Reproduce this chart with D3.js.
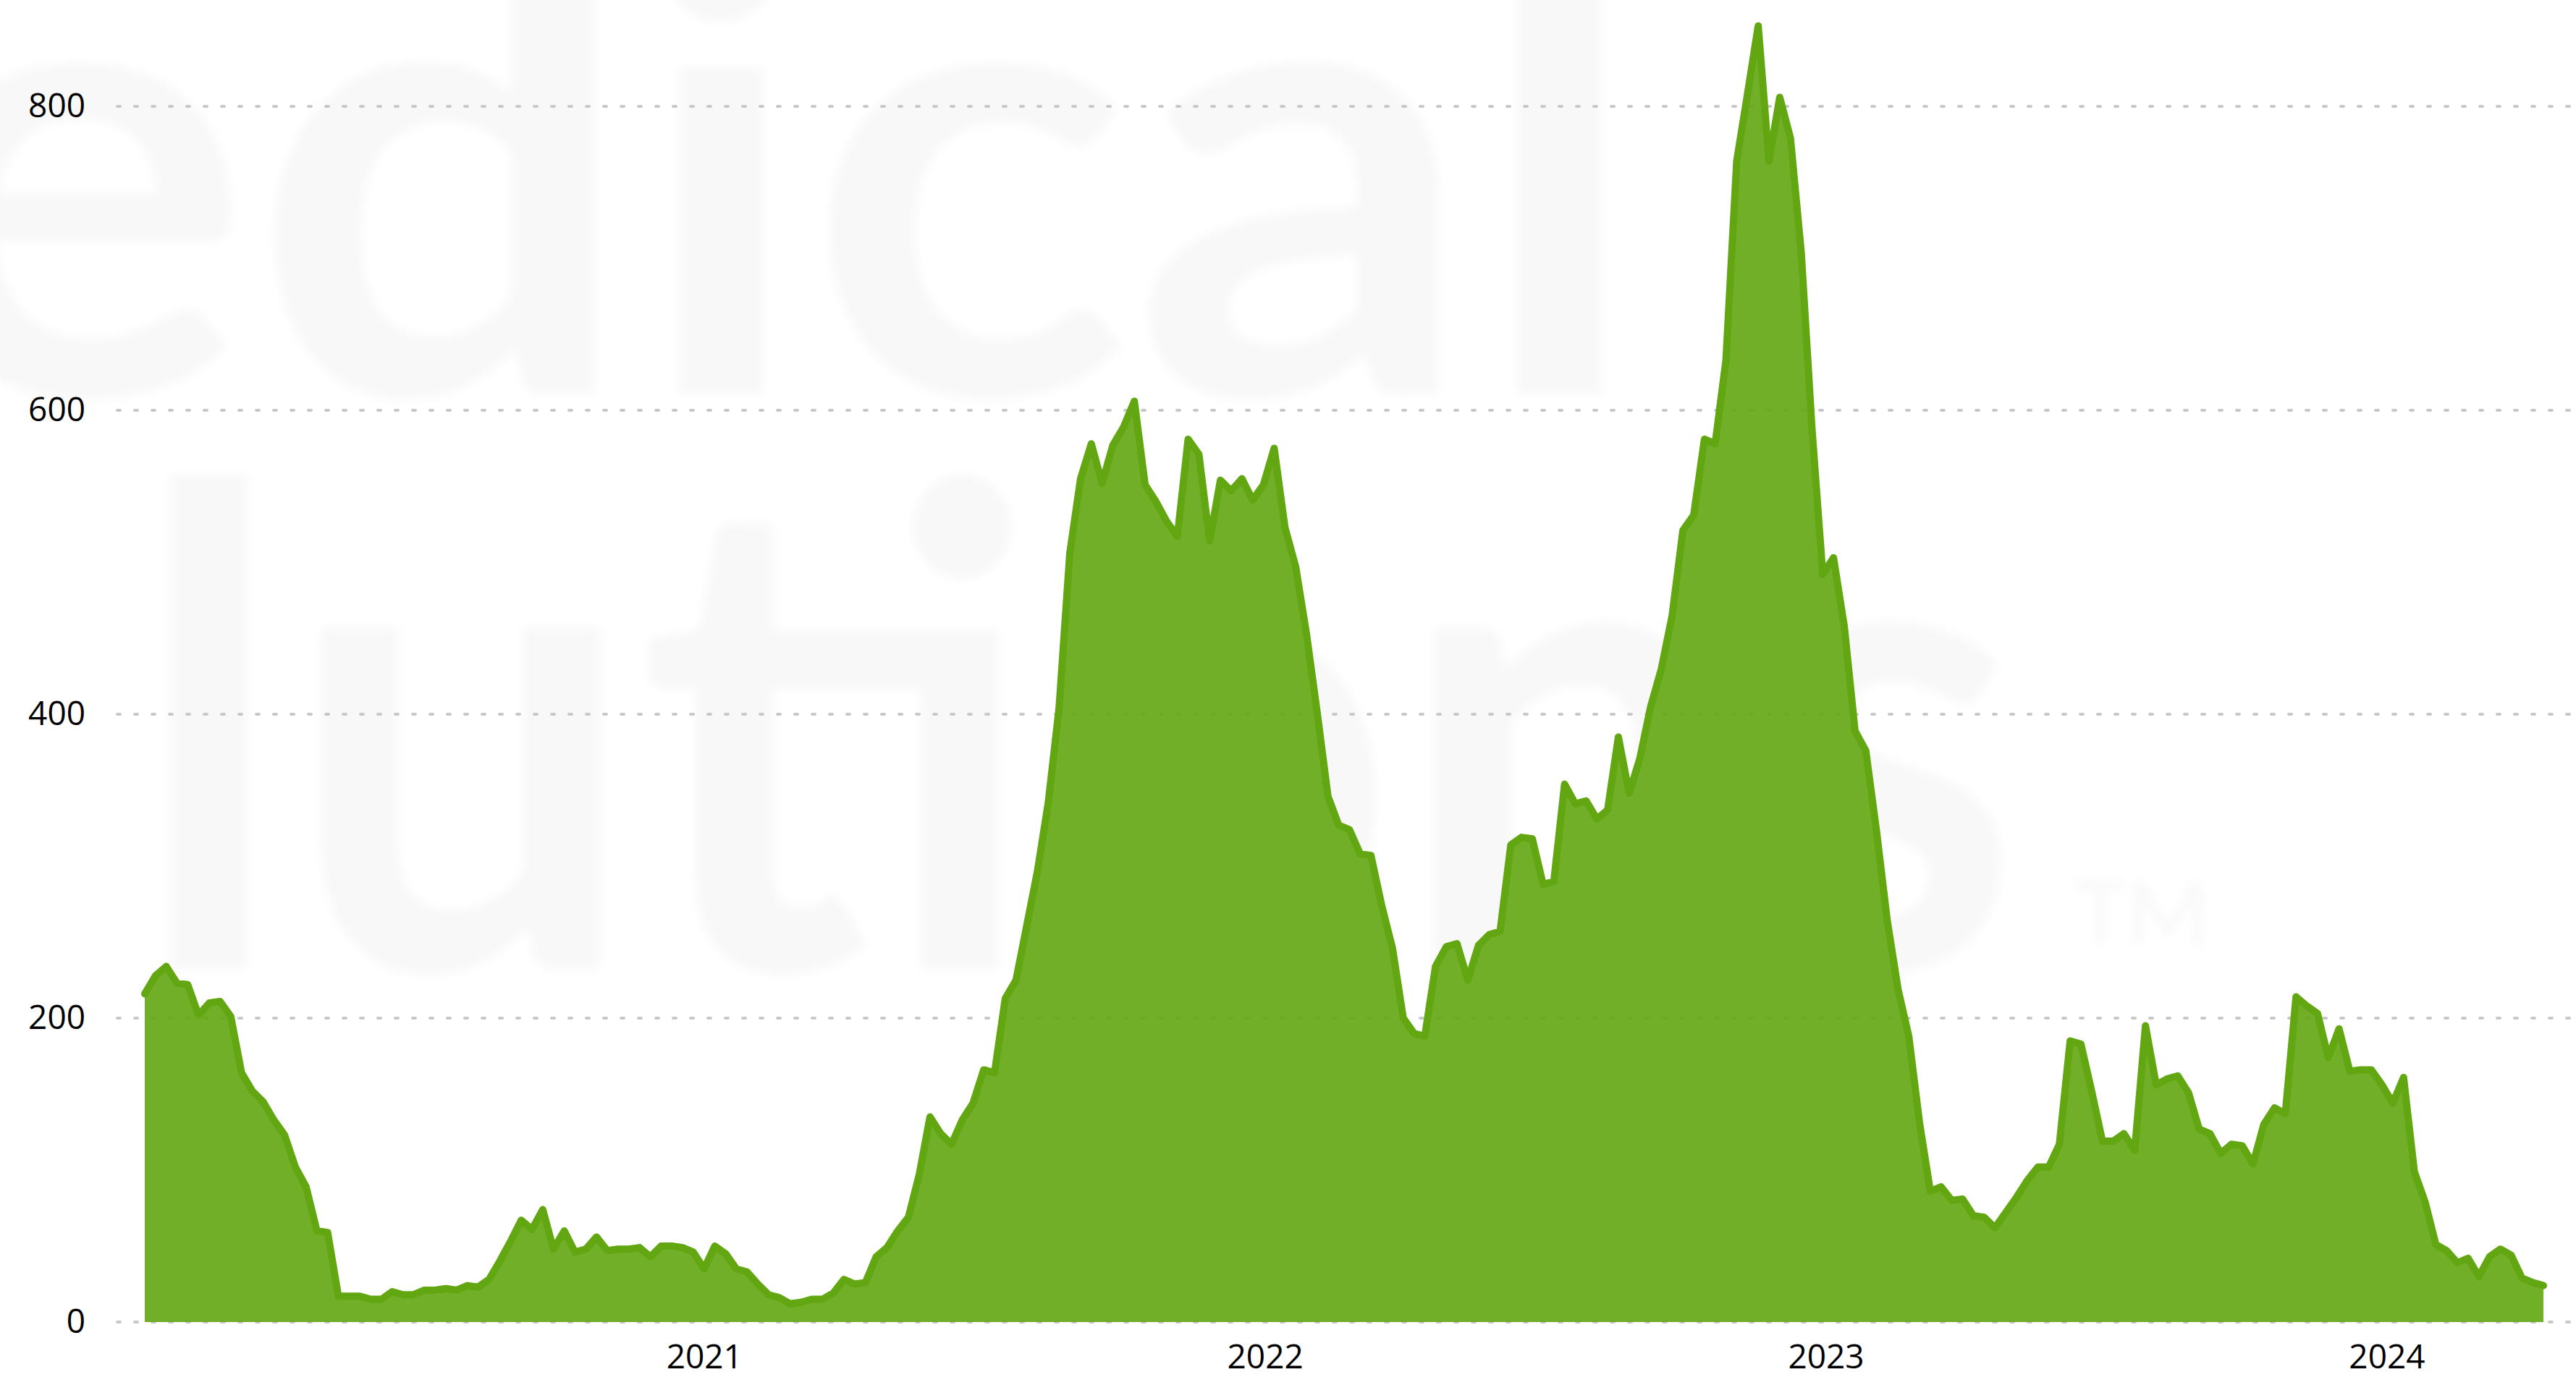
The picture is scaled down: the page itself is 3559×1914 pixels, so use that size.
<!DOCTYPE html>
<html>
<head>
<meta charset="utf-8">
<script src="https://cdn.jsdelivr.net/npm/d3@7"></script>
<style>
    body { margin: 0; background: #fff; }
    svg { display: block; }
    .tick text { font-family: "Open Sans", "Noto Sans", sans-serif; fill: #000; }
</style>
</head>
<body>
<svg id="chart"></svg>
<script>
// weekly values, first week ending 3 Jan 2020
var firstWeek = new Date(2020, 0, 3)
var weekly = [
    216, 228, 234, 223, 222, 202, 210, 211, 201, 164,
    152, 145, 133, 123, 102, 89, 60, 59, 17, 17,
    17, 15, 15, 20, 18, 18, 21, 21, 22, 21,
    24, 23, 28, 40, 53, 67, 61, 74, 48, 60,
    46, 48, 56, 47, 48, 48, 49, 43, 50, 50,
    49, 46, 35, 50, 45, 35, 33, 25, 18, 16,
    12, 13, 15, 15, 19, 28, 25, 26, 43, 49,
    60, 69, 97, 135, 124, 117, 133, 144, 166, 164,
    213, 225, 261, 297, 342, 404, 506, 555, 578, 552,
    577, 589, 606, 551, 540, 527, 517, 581, 571, 514,
    554, 547, 555, 541, 551, 575, 523, 497, 453, 401,
    346, 327, 324, 308, 307, 274, 246, 200, 190, 188,
    234, 247, 249, 225, 248, 255, 257, 314, 319, 318,
    288, 290, 354, 341, 343, 331, 337, 385, 348, 371,
    405, 430, 465, 521, 531, 581, 578, 633, 764, 808,
    853, 764, 806, 779, 704, 588, 492, 503, 458, 389,
    376, 323, 264, 219, 188, 131, 86, 89, 80, 81,
    70, 69, 62, 72, 82, 93, 102, 102, 117, 185,
    183, 152, 119, 119, 124, 113, 195, 156, 160, 162,
    151, 127, 124, 111, 117, 116, 104, 130, 141, 137,
    214, 208, 203, 174, 193, 165, 166, 166, 156, 144,
    161, 99, 79, 51, 47, 39, 42, 30, 43, 48,
    44, 29, 26, 24
]
var yTicks = [0, 200, 400, 600, 800]
var xTickYears = [2021, 2022, 2023, 2024]

var width = 3559, height = 1914

var data = weekly.map(function (v, i) {
    return {date: d3.timeDay.offset(firstWeek, 7 * i), value: v}
})

var svg = d3.select("#chart")
    .attr("width", width)
    .attr("height", height)

// soft blur for the logo watermark
svg.append("defs")
    .append("filter")
        .attr("id", "soft")
        .attr("x", "-10%").attr("y", "-10%")
        .attr("width", "120%").attr("height", "120%")
    .append("feGaussianBlur")
        .attr("stdDeviation", 7)

// faint logo watermark behind the plot
var wm = svg.append("g")
    .attr("fill", "#f7f8f7")
    .attr("filter", "url(#soft)")
    .style("font-family", "Lato, sans-serif")
    .style("font-weight", 700)
wm.append("text")
    .attr("x", -150).attr("y", 545)
    .style("font-size", "880px")
    .attr("textLength", 2420)
    .attr("lengthAdjust", "spacingAndGlyphs")
    .text("edical")
wm.append("text")
    .attr("x", 182).attr("y", 1339)
    .style("font-size", "920px")
    .attr("textLength", 2610)
    .attr("lengthAdjust", "spacingAndGlyphs")
    .text("lutions")
wm.append("text")
    .attr("x", 2865).attr("y", 1305)
    .style("font-size", "120px")
    .style("font-weight", 400)
    .attr("textLength", 188)
    .attr("lengthAdjust", "spacingAndGlyphs")
    .text("TM")

var x = d3.scaleTime()
    .domain([data[0].date, data[data.length - 1].date])
    .range([200, 3514])

var y = d3.scaleLinear()
    .domain([0, 800])
    .range([1827, 147])

// dotted gridlines
svg.append("g")
    .selectAll("line")
    .data(yTicks)
    .enter()
    .append("line")
        .attr("x1", 162)
        .attr("x2", width)
        .attr("y1", function (d) { return y(d) })
        .attr("y2", function (d) { return y(d) })
        .attr("stroke", "#c8c8c8")
        .attr("stroke-width", 4)
        .attr("stroke-linecap", "round")
        .attr("stroke-dasharray", "4 20")

var area = d3.area()
    .x(function (d) { return x(d.date) })
    .y0(y(0))
    .y1(function (d) { return y(d.value) })

var line = d3.line()
    .x(function (d) { return x(d.date) })
    .y(function (d) { return y(d.value) })

svg.append("path")
    .datum(data)
    .attr("d", area)
    .attr("fill", "#62a611")
    .attr("fill-opacity", 0.9)

svg.append("path")
    .datum(data)
    .attr("d", line)
    .attr("fill", "none")
    .attr("stroke", "#62a611")
    .attr("stroke-width", 10)
    .attr("stroke-linejoin", "round")
    .attr("stroke-linecap", "round")

// axes
var yAxis = svg.append("g")
    .attr("transform", "translate(158,0)")
    .call(d3.axisLeft(y).tickValues(yTicks).tickSize(0).tickPadding(40))
yAxis.select(".domain").remove()
yAxis.selectAll("text").style("font-size", "46px")

var xAxis = svg.append("g")
    .attr("transform", "translate(0," + y(0) + ")")
    .call(d3.axisBottom(x)
        .tickValues(xTickYears.map(function (yr) { return new Date(yr, 0, 1) }))
        .tickFormat(d3.timeFormat("%Y"))
        .tickSize(0)
        .tickPadding(31))
xAxis.select(".domain").remove()
xAxis.selectAll("text").style("font-size", "46px")
</script>
</body>
</html>
